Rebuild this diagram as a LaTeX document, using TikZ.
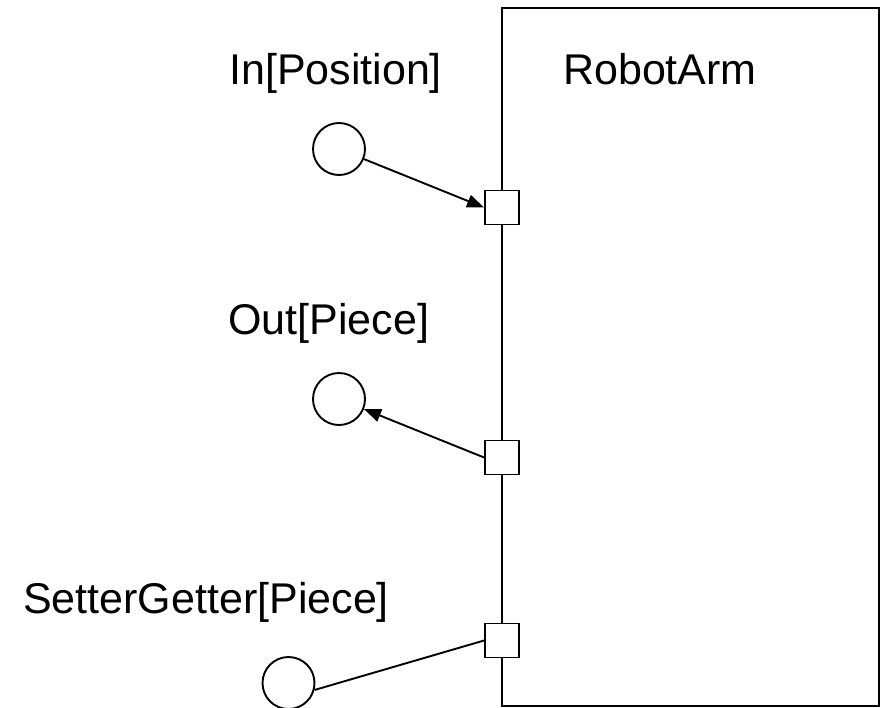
\documentclass[tikz,border=0pt]{standalone}
\usepackage{fontspec}
\setmainfont{Liberation Sans}
\usetikzlibrary{arrows.meta}
\begin{document}
\begin{tikzpicture}[x=1pt,y=-1pt,
  lw/.style={line width=1.9pt},
  armbox/.style={draw,lw,rectangle,minimum width=377pt,minimum height=698pt,inner sep=0pt,outer sep=0pt,anchor=north west},
  portbox/.style={draw,lw,fill=white,rectangle,minimum size=34pt,inner sep=0pt},
  pin/.style={draw,lw,circle,minimum size=52pt,inner sep=0pt},
  lbl/.style={font=\fontsize{43}{50}\selectfont,anchor=base west,inner sep=0pt},
  conn/.style={lw},
  arr/.style={lw,-{Triangle[length=17pt,width=13pt]}}]
\useasboundingbox (0,0) rectangle (881,707);
\node[armbox] (arm) at (502,8) {};
\node[portbox] (p1) at (502,207.5) {};
\node[portbox] (p2) at (502,457.5) {};
\node[portbox] (p3) at (502,640.5) {};
\node[pin] (c1) at (339,149) {};
\node[pin] (c2) at (339,399) {};
\node[pin] (c3) at (288.5,683) {};
\draw[arr] (c1) -- (p1.west);
\draw[arr] (p2.west) -- (c2);
\draw[conn] (p3.west) -- (c3.-15);
\node[lbl] (l1) at (229,84) {In[Position]};
\node[lbl] (l2) at (228,334) {Out[Piece]};
\node[lbl] (l3) at (23,613) {SetterGetter[Piece]};
\node[lbl] (l4) at (563,84) {RobotArm};
\end{tikzpicture}
\end{document}
